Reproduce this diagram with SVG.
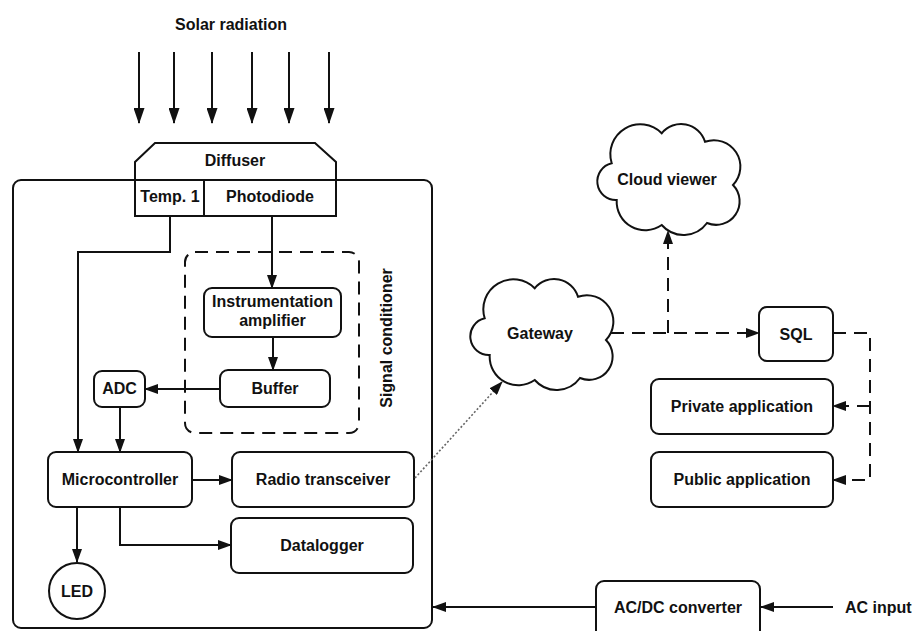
<svg xmlns="http://www.w3.org/2000/svg" width="915" height="631" viewBox="0 0 915 631">
<style>
  text { font-family: "Liberation Sans", Arial, sans-serif; font-weight: bold; font-size: 16px; fill: #111; text-anchor: middle; }
  .box { fill: #fff; stroke: #111; stroke-width: 2; }
  .ln { fill: none; stroke: #111; stroke-width: 2; }
  .dash { fill: none; stroke: #111; stroke-width: 2; stroke-dasharray: 13 8; }
  .dot { fill: none; stroke: #666; stroke-width: 1.6; stroke-dasharray: 2 2; }
</style>
<defs>
  <marker id="ah" markerWidth="14" markerHeight="10" refX="13" refY="5" orient="auto" markerUnits="userSpaceOnUse">
    <path d="M0,0 L14,5 L0,10 z" fill="#111"/>
  </marker>
  <marker id="ahL" markerWidth="16" markerHeight="11" refX="15" refY="5.5" orient="auto" markerUnits="userSpaceOnUse">
    <path d="M0,0 L16,5.5 L0,11 z" fill="#111"/>
  </marker>
  <path id="cloud" d="M21.7,75 A18.6 18.6 0 0 1 16.7,38.3 A30 30 0 0 1 66.7,8.3 A25 25 0 0 1 110,16.7 A26.5 26.5 0 0 1 138,60 A23.5 23.5 0 0 1 112,98 A29 29 0 0 1 66.7,100 A28.6 28.6 0 0 1 21.7,75 Z"/>
</defs>

<g id="solar">
  <text x="231" y="30">Solar radiation</text>
  <g class="ln">
    <line x1="139" y1="52" x2="139" y2="123" marker-end="url(#ahL)"/>
    <line x1="174" y1="52" x2="174" y2="123" marker-end="url(#ahL)"/>
    <line x1="212" y1="52" x2="212" y2="123" marker-end="url(#ahL)"/>
    <line x1="252" y1="52" x2="252" y2="123" marker-end="url(#ahL)"/>
    <line x1="289" y1="52" x2="289" y2="123" marker-end="url(#ahL)"/>
    <line x1="329" y1="52" x2="329" y2="123" marker-end="url(#ahL)"/>
  </g>
</g>

<g id="main-enclosure">
  <rect class="box" x="13" y="180" width="419" height="448" rx="8"/>
</g>

<g id="diffuser">
  <path class="box" d="M135,216 L135,162 L155,143 L315,143 L336,162 L336,216 Z"/>
  <line class="ln" x1="135" y1="180" x2="336" y2="180"/>
  <text x="235" y="166">Diffuser</text>
</g>
<g id="temp1">
  <line class="ln" x1="204" y1="180" x2="204" y2="216"/>
  <text x="170" y="202">Temp. 1</text>
</g>
<g id="photodiode">
  <text x="270" y="202">Photodiode</text>
</g>

<g id="signal-conditioner">
  <rect class="dash" x="185" y="252" width="174" height="181" rx="10" stroke-dasharray="12 8"/>
  <text transform="translate(392,338) rotate(-90)">Signal conditioner</text>
</g>
<g id="instrumentation-amplifier">
  <rect class="box" x="204" y="288" width="137" height="49" rx="8"/>
  <text x="272.5" y="307">Instrumentation</text>
  <text x="272.5" y="326">amplifier</text>
</g>
<g id="buffer">
  <rect class="box" x="220" y="370" width="110" height="37" rx="8"/>
  <text x="275" y="394">Buffer</text>
</g>
<g id="adc">
  <rect class="box" x="94" y="371" width="51" height="36" rx="8"/>
  <text x="119.5" y="394">ADC</text>
</g>
<g id="microcontroller">
  <rect class="box" x="48" y="452" width="144" height="55" rx="8"/>
  <text x="120" y="485">Microcontroller</text>
</g>
<g id="radio-transceiver">
  <rect class="box" x="232" y="452" width="182" height="55" rx="8"/>
  <text x="323" y="485">Radio transceiver</text>
</g>
<g id="datalogger">
  <rect class="box" x="231" y="518" width="182" height="55" rx="8"/>
  <text x="322" y="551">Datalogger</text>
</g>
<g id="led">
  <circle class="box" cx="77" cy="591" r="28"/>
  <text x="77" y="597">LED</text>
</g>

<g id="gateway">
  <use href="#cloud" transform="translate(468,280)" fill="#fff" stroke="#111" stroke-width="2"/>
  <text x="540" y="339">Gateway</text>
</g>
<g id="cloud-viewer">
  <use href="#cloud" transform="translate(595,125)" fill="#fff" stroke="#111" stroke-width="2"/>
  <text x="667" y="185">Cloud viewer</text>
</g>
<g id="sql">
  <rect class="box" x="759" y="307" width="74" height="54" rx="8"/>
  <text x="796" y="340">SQL</text>
</g>
<g id="private-application">
  <rect class="box" x="651" y="379" width="182" height="55" rx="8"/>
  <text x="742" y="412">Private application</text>
</g>
<g id="public-application">
  <rect class="box" x="651" y="452" width="182" height="55" rx="8"/>
  <text x="742" y="485">Public application</text>
</g>
<g id="acdc-converter">
  <rect class="box" x="596" y="581" width="164" height="60" rx="8"/>
  <text x="678" y="613">AC/DC converter</text>
</g>
<g id="ac-input">
  <text x="845" y="613" style="text-anchor:start">AC input</text>
</g>

<g id="connectors">
  <polyline class="ln" points="170,216 170,252 78,252 78,452" marker-end="url(#ah)"/>
  <line class="ln" x1="272" y1="216" x2="272" y2="288" marker-end="url(#ah)"/>
  <line class="ln" x1="273" y1="337" x2="273" y2="370" marker-end="url(#ah)"/>
  <line class="ln" x1="220" y1="389" x2="145" y2="389" marker-end="url(#ah)"/>
  <line class="ln" x1="120" y1="407" x2="120" y2="452" marker-end="url(#ah)"/>
  <line class="ln" x1="192" y1="480" x2="232" y2="480" marker-end="url(#ah)"/>
  <polyline class="ln" points="120,507 120,545 231,545" marker-end="url(#ah)"/>
  <line class="ln" x1="77" y1="507" x2="77" y2="562" marker-end="url(#ah)"/>
  <line class="dot" x1="415" y1="478" x2="502" y2="382" marker-end="url(#ah)"/>
  <line class="dash" x1="611" y1="333" x2="759" y2="333" marker-end="url(#ah)"/>
  <line class="dash" x1="668" y1="333" x2="668" y2="231" marker-end="url(#ah)"/>
  <polyline class="dash" points="833,333 870,333 870,480 833,480" marker-end="url(#ah)"/>
  <line class="dash" x1="870" y1="406" x2="833" y2="406" marker-end="url(#ah)"/>
  <line class="ln" x1="596" y1="607" x2="433" y2="607" marker-end="url(#ah)"/>
  <line class="ln" x1="833" y1="607" x2="761" y2="607" marker-end="url(#ah)"/>
</g>
</svg>
